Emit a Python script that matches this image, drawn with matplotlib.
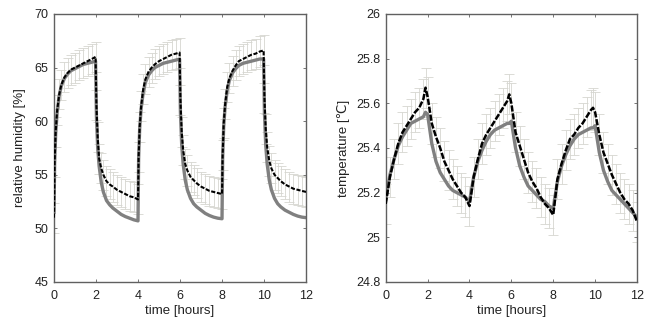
import matplotlib
matplotlib.use("Agg")
import matplotlib.pyplot as plt

plt.rcParams['font.family'] = ['Liberation Sans', 'DejaVu Sans']

# ---- relative humidity (left panel) ----
t_rh = [0, .03, .08, .15, .25, .35, .5, .65, .8, 1.0, 1.2, 1.4, 1.6, 1.8, 1.98,
        2.02, 2.08, 2.15, 2.25, 2.35, 2.5, 2.65, 2.8, 3.0, 3.2, 3.4, 3.6, 3.8,
        4.0, 4.03, 4.08, 4.15, 4.25, 4.35, 4.5, 4.65, 4.8, 5.0, 5.2, 5.4, 5.6, 5.8, 5.98,
        6.02, 6.08, 6.15, 6.25, 6.35, 6.5, 6.65, 6.8, 7.0, 7.2, 7.4, 7.6, 7.8,
        8.0, 8.03, 8.08, 8.15, 8.25, 8.35, 8.5, 8.65, 8.8, 9.0, 9.2, 9.4, 9.6, 9.8, 9.98,
        10.02, 10.08, 10.15, 10.25, 10.35, 10.5, 10.65, 10.8, 11.0, 11.2, 11.4, 11.6, 11.8,
        12.0]

rh_meas = [51.0, 56.2, 59.0, 61.0, 62.5, 63.4, 64.1, 64.5, 64.8, 65.0, 65.2, 65.4, 65.6, 65.8, 66.0,
           61.5, 58.5, 56.5, 55.6, 55.0, 54.4, 54.1, 53.9, 53.6, 53.4, 53.2, 53.0, 52.9,
           52.7, 56.7, 59.5, 61.4, 63.0, 63.9, 64.6, 65.0, 65.3, 65.6, 65.8, 66.0, 66.2, 66.3, 66.4,
           62.0, 59.0, 57.3, 56.0, 55.4, 54.8, 54.5, 54.2, 53.9, 53.7, 53.5, 53.4, 53.3,
           53.2, 56.8, 59.8, 61.6, 63.2, 64.0, 64.7, 65.2, 65.6, 65.8, 66.0, 66.2, 66.3, 66.5, 66.6,
           62.2, 59.3, 57.6, 56.3, 55.6, 55.0, 54.7, 54.4, 54.1, 53.9, 53.7, 53.6, 53.5,
           53.4]

rh_model = [51.5, 56.0, 58.8, 60.8, 62.4, 63.3, 64.0, 64.4, 64.7, 64.9, 65.1, 65.3, 65.4, 65.5, 65.6,
            60.5, 57.5, 55.8, 54.3, 53.4, 52.6, 52.2, 51.9, 51.6, 51.3, 51.1, 50.95, 50.8,
            50.7, 56.5, 59.3, 61.2, 62.7, 63.6, 64.3, 64.7, 65.0, 65.2, 65.4, 65.5, 65.6, 65.7, 65.8,
            60.8, 57.8, 56.0, 54.5, 53.6, 52.8, 52.3, 52.0, 51.7, 51.4, 51.2, 51.05, 50.95,
            50.9, 56.5, 59.5, 61.4, 62.9, 63.8, 64.5, 64.9, 65.2, 65.4, 65.5, 65.6, 65.7, 65.8, 65.8,
            60.8, 57.8, 56.0, 54.5, 53.6, 52.8, 52.3, 52.0, 51.7, 51.5, 51.3, 51.15, 51.05,
            51.0]

rh_err = 1.4

# ---- temperature (right panel) ----
t_temp = [0, .2, .4, .6, .8, 1.0, 1.2, 1.4, 1.6, 1.8, 1.9, 2.0, 2.2, 2.4, 2.6, 2.8, 3.0, 3.2, 3.4, 3.6, 3.8,
          4.0, 4.2, 4.4, 4.6, 4.8, 5.0, 5.2, 5.4, 5.6, 5.8, 5.9, 6.0, 6.2, 6.4, 6.6, 6.8, 7.0, 7.2, 7.4, 7.6, 7.8,
          8.0, 8.2, 8.4, 8.6, 8.8, 9.0, 9.2, 9.4, 9.6, 9.8, 9.9, 10.0, 10.2, 10.4, 10.6, 10.8, 11.0, 11.2, 11.4, 11.6, 11.8,
          12.0]

temp_meas = [25.15, 25.27, 25.35, 25.42, 25.47, 25.50, 25.53, 25.56, 25.58, 25.62, 25.67, 25.63,
             25.51, 25.45, 25.40, 25.34, 25.30, 25.26, 25.23, 25.20, 25.18,
             25.14, 25.27, 25.35, 25.42, 25.46, 25.49, 25.52, 25.55, 25.58, 25.61, 25.64, 25.60,
             25.47, 25.41, 25.35, 25.29, 25.25, 25.22, 25.18, 25.15, 25.13,
             25.10, 25.26, 25.33, 25.39, 25.44, 25.46, 25.49, 25.51, 25.54, 25.57, 25.58, 25.56,
             25.46, 25.38, 25.33, 25.28, 25.24, 25.20, 25.17, 25.15, 25.12,
             25.07]

temp_model = [25.17, 25.28, 25.35, 25.41, 25.45, 25.48, 25.51, 25.52, 25.53, 25.54, 25.56, 25.55,
              25.42, 25.34, 25.29, 25.26, 25.23, 25.21, 25.20, 25.19, 25.18,
              25.16, 25.27, 25.34, 25.39, 25.43, 25.46, 25.48, 25.49, 25.50, 25.51, 25.51, 25.52,
              25.40, 25.32, 25.27, 25.23, 25.21, 25.19, 25.17, 25.16, 25.14,
              25.13, 25.25, 25.32, 25.37, 25.41, 25.44, 25.46, 25.47, 25.48, 25.49, 25.49, 25.50,
              25.38, 25.30, 25.25, 25.21, 25.19, 25.17, 25.15, 25.13, 25.11,
              25.09]

temp_err = 0.09

fig = plt.figure(figsize=(6.56, 3.23), dpi=100)
ax1 = fig.add_axes([0.0823, 0.127, 0.3842, 0.8297])
ax2 = fig.add_axes([0.588, 0.127, 0.383, 0.8297])


def style_axes(ax, xlabel, ylabel, ypad):
    for s in ax.spines.values():
        s.set_color('#606060')
        s.set_linewidth(1.0)
    ax.tick_params(direction='in', length=2.5, width=0.6, color='#606060',
                   labelsize=9, labelcolor='#222222', top=True, right=True)
    ax.tick_params(axis='x', pad=6)
    ax.tick_params(axis='y', pad=4)
    ax.set_xlabel(xlabel, fontsize=9.5, color='#222222', labelpad=2)
    ax.set_ylabel(ylabel, fontsize=9.5, color='#222222', labelpad=ypad)


ax1.errorbar(t_rh, rh_meas, yerr=rh_err, fmt='none', ecolor='#d6d6d0',
             elinewidth=0.6, capsize=3.5, capthick=0.6, zorder=1)
ax1.plot(t_rh, rh_model, color='#808080', lw=2.4, zorder=2)
ax1.plot(t_rh, rh_meas, color='black', lw=1.5, ls=(0, (2, 0.8)), zorder=3)
ax1.set_xlim(0, 12)
ax1.set_ylim(45, 70)
ax1.set_xticks([0, 2, 4, 6, 8, 10, 12])
ax1.set_yticks([45, 50, 55, 60, 65, 70])
style_axes(ax1, 'time [hours]', 'relative humidity [%]', 6)

ax2.errorbar(t_temp, temp_meas, yerr=temp_err, fmt='none', ecolor='#d6d6d0',
             elinewidth=0.6, capsize=3.5, capthick=0.6, zorder=1)
ax2.plot(t_temp, temp_model, color='#808080', lw=2.4, zorder=2)
ax2.plot(t_temp, temp_meas, color='black', lw=1.8, ls=(0, (2.5, 0.7)), zorder=3)
ax2.set_xlim(0, 12)
ax2.set_ylim(24.8, 26)
ax2.set_xticks([0, 2, 4, 6, 8, 10, 12])
ax2.set_yticks([24.8, 25, 25.2, 25.4, 25.6, 25.8, 26])
ax2.set_yticklabels(['24.8', '25', '25.2', '25.4', '25.6', '25.8', '26'])
style_axes(ax2, 'time [hours]', 'temperature [\u2103]', 4)

fig.savefig('out.png', dpi=100)
